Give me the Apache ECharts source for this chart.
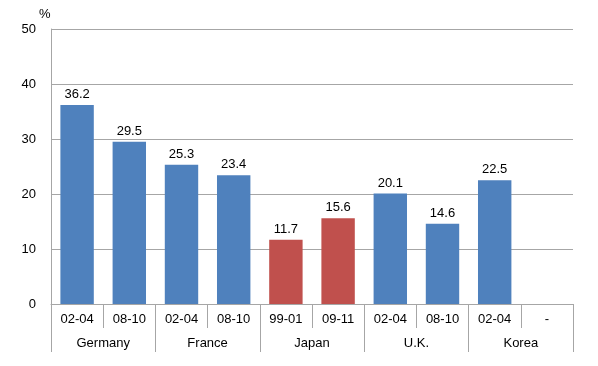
<!DOCTYPE html>
<html>
<head>
<meta charset="utf-8">
<script src="https://cdn.jsdelivr.net/npm/echarts@6/dist/echarts.min.js"></script>
<style>html,body{margin:0;padding:0;background:#fff}#c{width:598px;height:366px}</style>
</head>
<body>
<div id="c"></div>
<script>
const periods = ['02-04','08-10','02-04','08-10','99-01','09-11','02-04','08-10','02-04','-'];
const countries = ['Germany','France','Japan','U.K.','Korea'];
const values = [36.2, 29.5, 25.3, 23.4, 11.7, 15.6, 20.1, 14.6, 22.5, null];
const highlight = [false,false,false,false,true,true,false,false,false,false];
const yTicks = [0,10,20,30,40,50];

const BLUE = '#4F81BD', RED = '#C0504D', GRID = '#A6A6A6';
const font = 'Liberation Sans, Arial, sans-serif';

const chart = echarts.init(document.getElementById('c'), null, {renderer:'canvas'});
chart.setOption({
  animation: false,
  backgroundColor: '#ffffff',
  grid: {left: 51, right: 25, top: 29, bottom: 62, containLabel: false},
  graphic: [{type:'text', left: 39, top: 8, style:{text:'%', font:'13px ' + font, fill:'#000'}}],
  xAxis: [
    {
      type: 'category', data: periods, position: 'bottom', offset: 0,
      axisLine: {show: true, lineStyle: {color: GRID, width: 1}},
      axisTick: {show: true, length: 24, alignWithLabel: false, lineStyle: {color: GRID}},
      axisLabel: {color: '#000', fontSize: 13, fontFamily: font, margin: 9, interval: 0},
      splitLine: {show: false}
    },
    {
      type: 'category', data: countries, position: 'bottom', offset: 0,
      axisLine: {show: false},
      axisTick: {show: true, length: 48, lineStyle: {color: GRID}},
      axisLabel: {color: '#000', fontSize: 13, fontFamily: font, margin: 33, interval: 0},
      splitLine: {show: false}
    }
  ],
  yAxis: {
    type: 'value', min: yTicks[0], max: yTicks[yTicks.length-1], interval: 10,
    axisLine: {show: true, lineStyle: {color: GRID}},
    axisTick: {show: false},
    axisLabel: {color: '#000', fontSize: 13, fontFamily: font, margin: 15},
    splitLine: {show: true, lineStyle: {color: GRID, width: 1}}
  },
  series: [{
    type: 'bar', xAxisIndex: 0,
    data: values.map((v, i) => ({value: v, itemStyle: {color: highlight[i] ? RED : BLUE}})),
    barWidth: '64%',
    label: {show: true, position: 'top', distance: 4, color: '#000', fontSize: 13, fontFamily: font,
      formatter: p => p.value == null ? '' : p.value.toFixed(1)}
  }]
});
</script>
</body>
</html>
